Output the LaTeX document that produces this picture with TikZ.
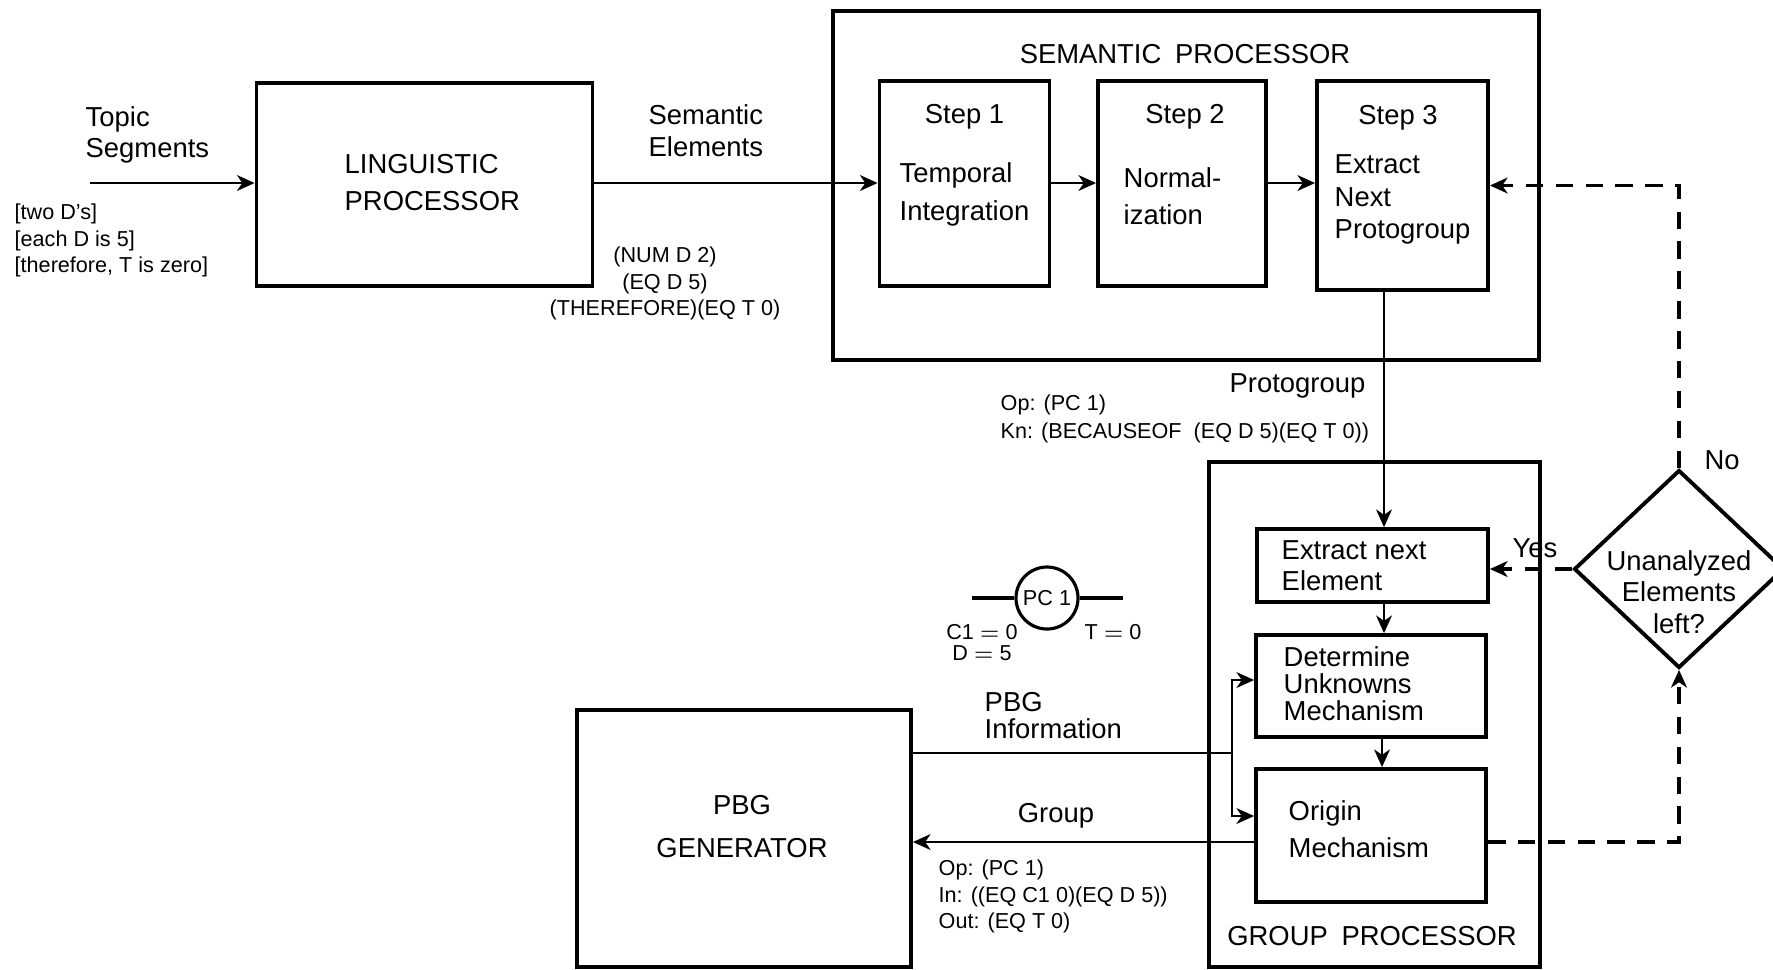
\documentclass[tikz,border=0pt]{standalone}
\usepackage{fontspec}
\setmainfont{Liberation Sans}
\usetikzlibrary{arrows.meta,shapes.geometric}

\tikzset{
  boite/.style={draw, line width=1.1pt, inner sep=0pt},
  cadre/.style={draw, line width=0.9pt, inner sep=0pt},
  fleche/.style={line width=0.6pt, -{Stealth[length=5pt,width=4.5pt,inset=1.5pt]}},
  tirets/.style={line width=0.9pt, dash pattern=on 5pt off 3.5pt},
  texte/.style={font=\fontsize{7.8}{9}\selectfont, inner sep=0pt},
  petit/.style={font=\fontsize{6.15}{7.5}\selectfont, inner sep=0pt}
}

\begin{document}
\begin{tikzpicture}
  \useasboundingbox (0,0) rectangle (17.73,-9.69);

  % Les cadres
  \node[cadre, minimum width=7.06cm, minimum height=3.49cm] (semproc) at (11.86,-1.855) {};
  \node[cadre, minimum width=3.31cm, minimum height=5.05cm] (grpproc) at (13.745,-7.145) {};

  % Les boites
  \node[boite, minimum width=3.36cm, minimum height=2.03cm] (ling) at (4.245,-1.845) {};
  \node[boite, minimum width=1.70cm, minimum height=2.05cm] (step1) at (9.645,-1.835) {};
  \node[boite, minimum width=1.68cm, minimum height=2.05cm] (step2) at (11.82,-1.835) {};
  \node[boite, minimum width=1.71cm, minimum height=2.09cm] (step3) at (14.025,-1.855) {};
  \node[boite, minimum width=2.31cm, minimum height=0.73cm] (extr) at (13.725,-5.655) {};
  \node[boite, minimum width=2.30cm, minimum height=1.02cm] (determ) at (13.71,-6.86) {};
  \node[boite, minimum width=2.30cm, minimum height=1.33cm] (orig) at (13.71,-8.355) {};
  \node[boite, minimum width=3.34cm, minimum height=2.57cm] (pbg) at (7.44,-8.385) {};
  \node[boite, diamond, minimum width=2.1cm, minimum height=1.98cm] (diamant) at (16.79,-5.69) {};

  % Les points libres
  \coordinate (entree) at (0.90,-1.83);
  \coordinate (pg) at (13.84,-3.0);
  \coordinate (jonction) at (12.32,-7.53);
  \coordinate (pcg) at (9.72,-5.98);
  \coordinate (pcd) at (11.23,-5.98);

  % Les fleches
  \draw[fleche] (entree) -- (entree -| ling.west);
  \draw[fleche] (entree -| ling.east) -- (entree -| step1.west);
  \draw[fleche] (entree -| step1.east) -- (entree -| step2.west);
  \draw[fleche] (entree -| step2.east) -- (entree -| step3.west);
  \draw[fleche] (step3.south -| pg) -- (extr.north -| pg);
  \draw[fleche] (extr.south -| pg) -- (determ.north -| pg);
  \draw[fleche] ([xshift=-0.02cm]determ.south -| pg) -- ([xshift=-0.02cm]orig.north -| pg);
  \draw[line width=0.6pt] (jonction -| pbg.east) -- (jonction);
  \draw[fleche] (jonction) |- ([yshift=0.06cm]determ.west);
  \draw[fleche] (jonction) |- ([yshift=0.195cm]orig.west);
  \draw[fleche] ([yshift=-0.065cm]orig.west) -- ([yshift=-0.065cm]orig.west -| pbg.east);

  % Les pointilles
  \draw[tirets, fleche, line width=0.9pt] (diamant.north) |- (step3.east);
  \draw[tirets, fleche, line width=0.9pt] (diamant.west) -- (diamant.west -| extr.east);
  \draw[tirets, fleche, line width=0.9pt] ([yshift=-0.065cm]orig.east) -| (diamant.south);

  % Le cercle
  \node[draw, circle, line width=0.9pt, minimum size=0.62cm, inner sep=0pt, petit] (pc) at (10.47,-5.98) {PC 1};
  \draw[line width=0.9pt] (pcg) -- (pc.west);
  \draw[line width=0.9pt] (pc.east) -- (pcd);

  % Les textes
  \node[texte, align=left, anchor=west, font=\fontsize{7.8}{8.8}\selectfont] (topic) at (0.85,-1.345) {Topic\\Segments};
  \node[petit, align=left, anchor=west] (crochets) at (0.14,-2.405) {[two D's]\\[0pt][each D is 5]\\[0pt][therefore, T is zero]};
  \node[texte, align=left, anchor=west, font=\fontsize{7.8}{10.5}\selectfont] (lingtxt) at (3.44,-1.825) {LINGUISTIC\\PROCESSOR};
  \node[texte, align=left, anchor=west] (semel) at (6.48,-1.31) {Semantic\\Elements};
  \node[petit, align=center] (num) at (6.65,-2.835) {(NUM D 2)\\(EQ D 5)\\(THEREFORE)(EQ T 0)};
  \node[texte] (semtitre) at (11.85,-0.54) {SEMANTIC\enspace PROCESSOR};
  \node[texte] (s1) at (9.645,-1.165) {Step 1};
  \node[texte, align=left, anchor=west, font=\fontsize{7.8}{10.8}\selectfont] (s1txt) at (8.99,-1.94) {Temporal\\Integration};
  \node[texte] (s2) at (11.85,-1.165) {Step 2};
  \node[texte, align=left, anchor=west, font=\fontsize{7.8}{10.4}\selectfont] (s2txt) at (11.23,-1.96) {Normal-\\ization};
  \node[texte] (s3) at (13.98,-1.175) {Step 3};
  \node[texte, align=left, anchor=west, font=\fontsize{7.8}{9.2}\selectfont] (s3txt) at (13.34,-1.995) {Extract\\Next\\Protogroup};
  \node[texte, anchor=east] (proto) at (13.66,-3.86) {Protogroup};
  \node[petit, align=left, anchor=west, font=\fontsize{6.15}{8}\selectfont] (opkn) at (10.0,-4.19) {Op: (PC 1)\\Kn: (BECAUSEOF\ \ (EQ D 5)(EQ T 0))};
  \node[petit, align=center, font=\fontsize{6.15}{6}\selectfont] (c1) at (9.82,-6.425) {C1 $=$ 0\\D $=$ 5};
  \node[petit] (t0) at (11.13,-6.32) {T $=$ 0};
  \node[texte, align=left, anchor=west, font=\fontsize{7.8}{8.8}\selectfont] (extrtxt) at (12.81,-5.655) {Extract next\\Element};
  \node[texte, align=left, anchor=west, font=\fontsize{7.8}{7.7}\selectfont] (dettxt) at (12.83,-6.84) {Determine\\Unknowns\\Mechanism};
  \node[texte, align=left, anchor=west, font=\fontsize{7.8}{10.5}\selectfont] (origtxt) at (12.88,-8.295) {Origin\\Mechanism};
  \node[texte] (grptitre) at (13.72,-9.36) {GROUP\enspace PROCESSOR};
  \node[texte] (oui) at (15.35,-5.48) {Yes};
  \node[texte] (non) at (17.22,-4.60) {No};
  \node[texte, align=center] (question) at (16.79,-5.92) {Unanalyzed\\Elements\\left?};
  \node[texte, align=left, anchor=west, font=\fontsize{7.8}{7.7}\selectfont] (info) at (9.84,-7.155) {PBG\\Information};
  \node[texte] (groupe) at (10.56,-8.16) {Group};
  \node[petit, align=left, anchor=west] (opinout) at (9.38,-8.965) {Op: (PC 1)\\In: ((EQ C1 0)(EQ D 5))\\Out: (EQ T 0)};
  \node[texte, align=center, font=\fontsize{7.8}{12.2}\selectfont] (pbgtxt) at (7.42,-8.265) {PBG\\GENERATOR};

\end{tikzpicture}
\end{document}
